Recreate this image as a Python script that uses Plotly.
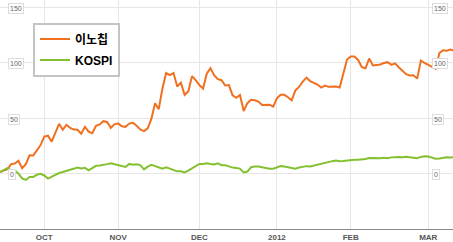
import plotly.graph_objects as go

# trading days (Korean market, Sep 2011 - Mar 2012)
dates = [
    "2011-09-15", "2011-09-16", "2011-09-19", "2011-09-20", "2011-09-21", "2011-09-22", "2011-09-23",
    "2011-09-26", "2011-09-27", "2011-09-28", "2011-09-29", "2011-09-30",
    "2011-10-04", "2011-10-05", "2011-10-06", "2011-10-07",
    "2011-10-10", "2011-10-11", "2011-10-12", "2011-10-13", "2011-10-14",
    "2011-10-17", "2011-10-18", "2011-10-19", "2011-10-20", "2011-10-21",
    "2011-10-24", "2011-10-25", "2011-10-26", "2011-10-27", "2011-10-28",
    "2011-10-31", "2011-11-01", "2011-11-02", "2011-11-03", "2011-11-04",
    "2011-11-07", "2011-11-08", "2011-11-09", "2011-11-10", "2011-11-11",
    "2011-11-14", "2011-11-15", "2011-11-16", "2011-11-17", "2011-11-18",
    "2011-11-21", "2011-11-22", "2011-11-23", "2011-11-24", "2011-11-25",
    "2011-11-28", "2011-11-29", "2011-11-30", "2011-12-01", "2011-12-02",
    "2011-12-05", "2011-12-06", "2011-12-07", "2011-12-08", "2011-12-09",
    "2011-12-12", "2011-12-13", "2011-12-14", "2011-12-15", "2011-12-16",
    "2011-12-19", "2011-12-20", "2011-12-21", "2011-12-22", "2011-12-23",
    "2011-12-26", "2011-12-27", "2011-12-28", "2011-12-29",
    "2012-01-02", "2012-01-03", "2012-01-04", "2012-01-05", "2012-01-06",
    "2012-01-09", "2012-01-10", "2012-01-11", "2012-01-12", "2012-01-13",
    "2012-01-16", "2012-01-17", "2012-01-18", "2012-01-19", "2012-01-20",
    "2012-01-25", "2012-01-26", "2012-01-27",
    "2012-01-30", "2012-01-31", "2012-02-01", "2012-02-02", "2012-02-03",
    "2012-02-06", "2012-02-07", "2012-02-08", "2012-02-09", "2012-02-10",
    "2012-02-13", "2012-02-14", "2012-02-15", "2012-02-16", "2012-02-17",
    "2012-02-20", "2012-02-21", "2012-02-22", "2012-02-23", "2012-02-24",
    "2012-02-27", "2012-02-28", "2012-02-29", "2012-03-02",
    "2012-03-05", "2012-03-06", "2012-03-07", "2012-03-08", "2012-03-09",
    "2012-03-12", "2012-03-13",
]

inochip = [
    1.5, 3.0, 4.0, 8.6, 9.2, 11.7, 5.0,
    8.6, 16.5, 16.3, 21.0, 25.8,
    33.4, 34.2, 28.9, 36.9,
    44.9, 39.6, 44.0, 41.3, 39.7,
    39.6, 36.0, 42.2, 37.8, 36.5,
    43.1, 44.4, 47.3, 46.6, 41.3,
    44.4, 45.3, 42.7, 42.2, 45.1,
    45.8, 43.1, 39.8, 38.4, 40.9,
    49.3, 63.5, 58.1, 76.7, 90.6,
    88.7, 90.6, 78.5, 82.0, 71.0,
    74.1, 87.8, 84.2, 79.8, 76.7,
    90.0, 94.9, 88.7, 85.1, 84.2,
    79.4, 79.8, 70.5, 68.3, 70.8,
    56.4, 63.5, 66.5, 66.1, 65.0,
    61.9, 62.1, 62.1, 60.4,
    67.9, 71.0, 71.0, 68.8, 66.1,
    75.0, 78.1, 82.9, 86.5, 83.4,
    81.6, 80.3, 77.6, 79.4, 78.2,
    78.5, 78.5, 77.6,
    89.1, 102.8, 105.5, 105.5, 102.4,
    95.9, 94.9, 103.7, 97.5, 97.7,
    98.4, 99.7, 100.4, 98.0, 99.3,
    95.8, 92.7, 89.6, 88.5, 88.7,
    85.6, 101.9, 99.7, 98.0,
    95.8, 94.4, 108.6, 111.2, 110.8,
    111.7, 110.8,
]

kospi = [
    1.5, 3.5, 5.0, 3.3, 3.0, 0.0, -4.2,
    -5.6, -2.9, -2.9, -0.9, -0.1,
    -1.6, -4.4, -2.9, -0.7,
    0.6, 1.5, 2.4, 3.0, 4.0,
    5.5, 4.6, 5.3, 3.1, 4.8,
    7.1, 7.4, 7.7, 8.6, 9.3,
    8.4, 7.7, 7.0, 6.1, 8.8,
    8.1, 8.4, 7.7, 3.9, 6.4,
    7.9, 7.0, 5.7, 4.6, 5.8,
    4.8, 3.3, 2.1, 2.1, 1.1,
    2.8, 5.0, 7.3, 8.8, 8.8,
    9.3, 8.8, 8.4, 9.3, 7.7,
    7.7, 6.4, 5.5, 5.1, 4.6,
    1.1, 1.9, 5.8, 6.5, 6.5,
    5.8, 5.0, 4.5, 4.4,
    5.5, 6.8, 6.5, 5.7, 4.9,
    4.5, 5.6, 6.3, 6.8, 6.5,
    7.4, 7.9, 8.7, 9.9, 11.1,
    11.3, 11.8, 11.2,
    11.4, 11.9, 11.9, 12.6, 12.6,
    12.7, 13.3, 14.1, 14.0, 13.9,
    13.9, 14.4, 14.0, 14.7, 15.1,
    15.1, 14.9, 15.3, 14.9, 14.3,
    14.0, 15.1, 15.6, 15.4,
    14.7, 13.5, 13.7, 14.5, 14.7,
    14.5, 14.8,
]

series_names = ["이노칩", "KOSPI"]
holidays = ["2011-10-03", "2011-12-30", "2012-01-23", "2012-01-24", "2012-03-01"]
month_ticks = ["2011-10-04", "2011-11-01", "2011-12-01", "2012-01-02", "2012-02-01", "2012-03-02"]
month_labels = ["OCT", "NOV", "DEC", "2012", "FEB", "MAR"]
y_ticks = [0, 50, 100, 150]
x_range = ["2011-09-15 00:00", "2012-03-12 16:48"]
y_range = [-49.8, 156.4]

fig = go.Figure()
fig.add_trace(go.Scatter(x=dates, y=inochip, name=series_names[0], mode="lines",
                         line=dict(color="#f07020", width=2), legendgroup="a"))
fig.add_trace(go.Scatter(x=dates, y=kospi, name=series_names[1], mode="lines",
                         line=dict(color="#84c030", width=2), legendgroup="b"))

for v in y_ticks:
    for px in (8 / 453, 432 / 453):
        fig.add_annotation(x=px, xref="paper", y=v, yref="y", yshift=-1, text=str(v), showarrow=False,
                           xanchor="left", yanchor="middle",
                           font=dict(family="Liberation Sans, Arial", size=7, color="#666"),
                           bgcolor="white", bordercolor="#dddddd", borderwidth=1, borderpad=1)

fig.update_layout(
    width=453, height=242,
    margin=dict(l=0, r=0, t=0, b=9),
    paper_bgcolor="white", plot_bgcolor="white",
    showlegend=True,
    legend=dict(x=33 / 453, y=1 - 23 / 233, xanchor="left", yanchor="top",
                bgcolor="white", bordercolor="#c4c4c4", borderwidth=2,
                font=dict(family="Liberation Sans, Noto Sans CJK KR", size=12, color="black", weight="bold"),
                tracegroupgap=2, entrywidth=90, entrywidthmode="pixels"),
    xaxis=dict(type="date", range=x_range,
               rangebreaks=[dict(bounds=["sat", "mon"]), dict(values=holidays)],
               tickmode="array", tickvals=month_ticks, ticktext=month_labels,
               showgrid=True, gridcolor="#e6e6e6", gridwidth=1,
               showline=True, linecolor="#888", linewidth=1,
               ticks="", ticklen=0,
               tickfont=dict(family="Liberation Sans, Arial", size=8, color="#555", weight="bold")),
    yaxis=dict(range=y_range, tickmode="array", tickvals=y_ticks, showticklabels=False,
               showgrid=True, gridcolor="#e6e6e6", gridwidth=1, zeroline=False),
)

fig.write_html("out.html")
